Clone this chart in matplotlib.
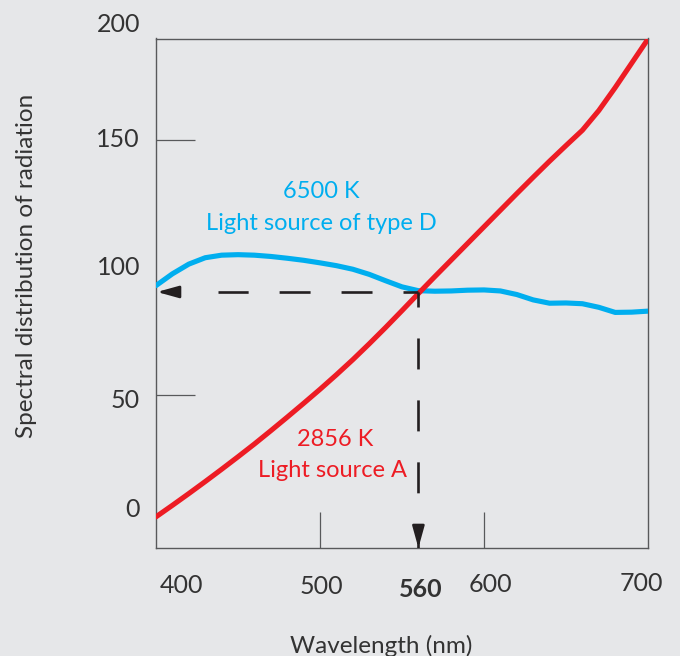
import numpy as np
import matplotlib
matplotlib.use('Agg')
import matplotlib.pyplot as plt

# spectral distribution of two light sources
wavelength = [400, 410, 420, 430, 440, 450, 460, 470, 480, 490, 500,
              510, 520, 530, 540, 550, 560, 570, 580, 590, 600,
              610, 620, 630, 640, 650, 660, 670, 680, 690, 700]
source_d = [93.0, 97.6, 101.4, 103.9, 104.9, 105.1, 104.9, 104.4, 103.7, 102.9, 101.9,
            100.8, 99.4, 97.4, 94.9, 92.5, 91.0, 90.8, 90.9, 91.2, 91.3,
            90.9, 89.5, 87.4, 86.1, 86.2, 85.9, 84.5, 82.5, 82.6, 83.0]
source_a = [2.5, 7.0, 11.6, 16.3, 21.1, 26.0, 31.0, 36.2, 41.5, 46.9, 52.4,
            58.1, 64.0, 70.2, 76.6, 83.2, 89.9, 96.5, 103.0, 109.5, 116.0,
            122.5, 129.0, 135.4, 141.7, 147.8, 153.8, 161.5, 170.5, 180.0, 189.5]

xtick_labels = ['400', '500', '560', '600', '700']
ytick_labels = ['200', '150', '100', '50', '0']
mark_x, mark_y = 560, 90.5

W, H = 680, 656
BG = '#e6e7e9'
RED = '#ed1c24'
BLUE = '#00aeef'
TXT = '#333333'
plt.rcParams['font.family'] = ['Lato', 'DejaVu Sans']
plt.rcParams['lines.scale_dashes'] = False

fig = plt.figure(figsize=(W / 100, H / 100), dpi=100, facecolor=BG)
ax = fig.add_axes([156 / W, 1 - 548 / H, 492 / W, 509.5 / H])
ax.set_facecolor(BG)
ax.set_xlim(400, 700)
ax.set_ylim(-9.7, 189.7)

for s in ax.spines.values():
    s.set_color('#58595b')
    s.set_linewidth(1.0)

ax.set_xticks([500, 600])
ax.set_yticks([50, 150])
ax.tick_params(axis='x', direction='in', length=26, width=0.9, color='#58595b', labelbottom=False)
ax.tick_params(axis='y', direction='in', length=28, width=0.9, color='#58595b', labelleft=False)

ax.plot(wavelength, source_d, color=BLUE, lw=3.7, solid_capstyle='round', solid_joinstyle='round', zorder=3)
ax.plot(wavelength, source_a, color=RED, lw=3.7, solid_capstyle='round', solid_joinstyle='round', zorder=4)

# dashed guide lines from the crossing point
dash = (11.5, (22.3, 22.3))
ax.plot([mark_x, 438], [mark_y, mark_y], color='#231f20', lw=1.9, linestyle=dash, zorder=5)
ax.plot([mark_x, mark_x], [mark_y, -9.7], color='#231f20', lw=1.9, linestyle=dash, zorder=5)
head = '-|>,head_length=1.3,head_width=0.36'
ax.annotate('', xy=(400.6, mark_y), xytext=(412, mark_y),
            arrowprops=dict(arrowstyle=head, color='#231f20',
                            lw=1.9, shrinkA=0, shrinkB=0, mutation_scale=10), zorder=6)
ax.annotate('', xy=(mark_x, -9.7), xytext=(mark_x, -5.0),
            arrowprops=dict(arrowstyle=head, color='#231f20',
                            lw=1.9, shrinkA=0, shrinkB=0, mutation_scale=10), zorder=6)


def px(x, y):
    return x / W, 1 - y / H


# tick labels
for lab, x, y in zip(xtick_labels, [181, 321, 421, 490, 641], [593, 594, 597, 592, 591]):
    bold = lab == '560'
    fig.text(*px(x, y), lab, ha='center', va='baseline', fontsize=18,
             fontweight='bold' if bold else 'normal', color=TXT)
for lab, y in zip(ytick_labels, [32, 147, 275, 408, 517]):
    fig.text(*px(140, y), lab, ha='right', va='baseline', fontsize=18, color=TXT)

fig.text(*px(381, 653), 'Wavelength (nm)', ha='center', va='baseline', fontsize=17.5, color=TXT)
fig.text(*px(27, 266), 'Spectral distribution of radiation', ha='center', va='center',
         rotation=90, fontsize=17.5, color=TXT)

fig.text(*px(321, 198), '6500 K', ha='center', va='baseline', fontsize=17, color=BLUE)
fig.text(*px(321, 230), 'Light source of type D', ha='center', va='baseline', fontsize=17, color=BLUE)
fig.text(*px(335, 446), '2856 K', ha='center', va='baseline', fontsize=17, color=RED)
fig.text(*px(332, 477), 'Light source A', ha='center', va='baseline', fontsize=17, color=RED)

fig.savefig('out.png', dpi=100, facecolor=BG)
